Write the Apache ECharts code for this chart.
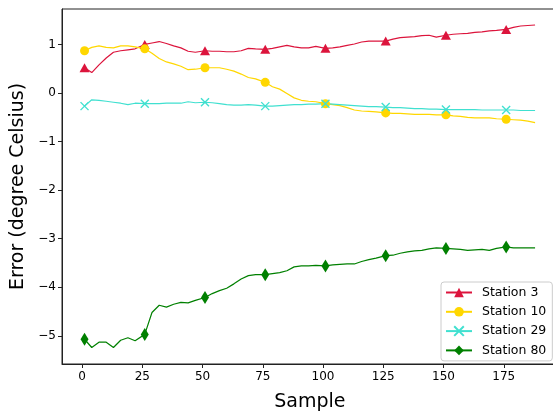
<!DOCTYPE html>
<html>
<head>
<meta charset="utf-8">
<script src="https://cdn.jsdelivr.net/npm/echarts@6/dist/echarts.min.js"></script>
<style>
html,body{margin:0;padding:0;background:#fff;}
#chart{width:553px;height:412px;}
</style>
</head>
<body>
<div id="chart"></div>
<script>
var samples = [1,4,7,10,13,16,19,22,26,29,32,35,38,41,44,47,51,54,57,60,63,66,69,72,76,79,82,85,88,91,94,97,101,104,107,110,113,116,119,122,126,129,132,135,138,141,144,147,151,154,157,160,163,166,169,172,176,179,182,185,188];
var markerSamples = [1,26,51,76,101,126,151,176];

var station3 = [0.52,0.42,0.58,0.72,0.84,0.87,0.89,0.91,1.00,1.03,1.06,1.02,0.97,0.93,0.86,0.84,0.87,0.86,0.86,0.85,0.85,0.87,0.92,0.91,0.90,0.92,0.95,0.98,0.95,0.93,0.93,0.96,0.92,0.93,0.95,0.98,1.01,1.05,1.07,1.07,1.07,1.11,1.14,1.15,1.16,1.18,1.19,1.15,1.19,1.21,1.22,1.23,1.25,1.26,1.28,1.29,1.31,1.35,1.38,1.39,1.40];
var station10 = [0.87,0.94,0.97,0.94,0.93,0.97,0.97,0.95,0.91,0.82,0.71,0.64,0.60,0.55,0.48,0.49,0.52,0.52,0.52,0.49,0.45,0.39,0.32,0.29,0.22,0.13,0.08,-0.01,-0.10,-0.15,-0.17,-0.18,-0.22,-0.24,-0.26,-0.30,-0.35,-0.37,-0.38,-0.39,-0.41,-0.42,-0.42,-0.43,-0.44,-0.44,-0.44,-0.45,-0.45,-0.47,-0.48,-0.50,-0.51,-0.51,-0.51,-0.53,-0.54,-0.55,-0.56,-0.58,-0.61];
var station29 = [-0.27,-0.14,-0.15,-0.17,-0.19,-0.21,-0.24,-0.21,-0.22,-0.22,-0.22,-0.21,-0.21,-0.21,-0.18,-0.20,-0.19,-0.20,-0.22,-0.24,-0.25,-0.25,-0.24,-0.25,-0.27,-0.27,-0.26,-0.25,-0.24,-0.24,-0.23,-0.23,-0.22,-0.23,-0.24,-0.25,-0.26,-0.27,-0.28,-0.28,-0.29,-0.30,-0.30,-0.31,-0.32,-0.32,-0.33,-0.33,-0.34,-0.34,-0.34,-0.34,-0.34,-0.35,-0.35,-0.35,-0.35,-0.35,-0.36,-0.36,-0.36];
var station80 = [-5.07,-5.24,-5.13,-5.13,-5.24,-5.09,-5.04,-5.10,-4.97,-4.52,-4.37,-4.41,-4.35,-4.31,-4.32,-4.27,-4.21,-4.13,-4.07,-4.02,-3.93,-3.83,-3.76,-3.74,-3.74,-3.72,-3.70,-3.66,-3.58,-3.56,-3.56,-3.55,-3.56,-3.54,-3.53,-3.52,-3.52,-3.47,-3.43,-3.40,-3.35,-3.34,-3.30,-3.27,-3.25,-3.24,-3.21,-3.19,-3.20,-3.21,-3.22,-3.24,-3.23,-3.22,-3.24,-3.20,-3.17,-3.19,-3.19,-3.19,-3.19];

var xTicks = [0,25,50,75,100,125,150,175];
var yTicks = [-5,-4,-3,-2,-1,0,1];

var seriesNames = ['Station 3','Station 10','Station 29','Station 80'];

function buildData(vals){
  return samples.map(function(s,i){
    var item = {value:[s, vals[i]]};
    if (markerSamples.indexOf(s) < 0) item.symbol = 'none';
    return item;
  });
}

var chart = echarts.init(document.getElementById('chart'), null, {renderer:'canvas'});
var font = 'DejaVu Sans';
function mk(name, vals, color, symbol, size, itemStyle){
  return {
    name:name, type:'line', data:buildData(vals),
    symbol:symbol, symbolSize:size, showSymbol:true, showAllSymbol:true,
    lineStyle:{color:color, width:1.2},
    itemStyle:itemStyle || {color:color},
    emphasis:{disabled:true}, z:2
  };
}
chart.setOption({
  animation:false,
  backgroundColor:'#fff',
  grid:{left:62, top:9, width:495.6, height:355, show:true, borderColor:'#222', borderWidth:1,
        backgroundColor:'transparent', containLabel:false, outerBoundsMode:'none'},
  xAxis:{
    type:'value', min:-8.35, max:197.35,
    axisLine:{show:true, onZero:false, lineStyle:{color:'#222', width:1}},
    axisTick:{show:true, customValues:xTicks, length:4, lineStyle:{color:'#222'}},
    axisLabel:{customValues:xTicks, fontSize:12, color:'#000', fontFamily:font, margin:7},
    splitLine:{show:false},
    name:'Sample', nameLocation:'middle', nameGap:29,
    nameTextStyle:{fontSize:19, color:'#000', fontFamily:font}
  },
  yAxis:{
    type:'value', min:-5.58, max:1.73,
    axisLine:{show:true, onZero:false, lineStyle:{color:'#222', width:1}},
    axisTick:{show:true, customValues:yTicks, length:4, lineStyle:{color:'#222'}},
    axisLabel:{customValues:yTicks, fontSize:12, color:'#000', fontFamily:font, margin:6,
      formatter:function(v){ return v < 0 ? '\u2212' + Math.abs(v) : String(v); }},
    splitLine:{show:false},
    name:'Error (degree Celsius)', nameLocation:'middle', nameGap:33,
    nameTextStyle:{fontSize:19, color:'#000', fontFamily:font}
  },
  legend:{
    data:seriesNames, orient:'vertical', left:441, top:282,
    itemWidth:26, itemHeight:12, itemGap:6.3,
    padding:[4,6,4,4], borderColor:'#ccc', borderWidth:1, borderRadius:3,
    backgroundColor:'#fff',
    textStyle:{fontSize:12.5, color:'#000', fontFamily:font, padding:[0,0,0,5]}
  },
  series:[
    mk('Station 3', station3, '#DC143C', 'triangle', [10,9]),
    mk('Station 10', station10, '#FFD700', 'circle', 9),
    mk('Station 29', station29, '#40E0D0', 'path://M0,0L10,10M10,0L0,10', 8,
       {color:'transparent', borderColor:'#40E0D0', borderWidth:1.4}),
    mk('Station 80', station80, '#008000', 'diamond', [8,13])
  ]
});
</script>
</body>
</html>
